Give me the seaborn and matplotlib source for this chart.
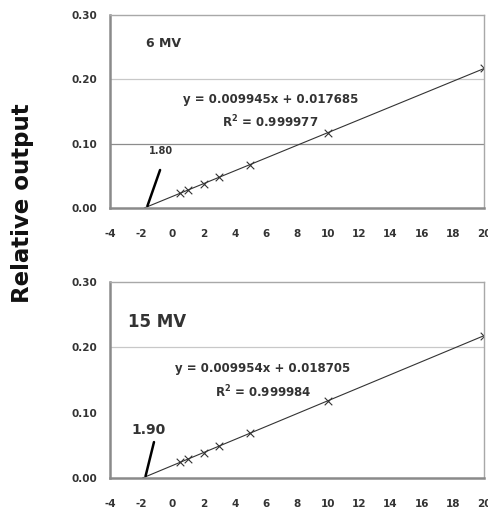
import numpy as np
import pandas as pd
import seaborn as sns
import matplotlib.pyplot as plt

# field sizes / readings
x_vals = [0.5, 1, 2, 3, 5, 10, 20]
y_6mv = [0.023, 0.028, 0.038, 0.048, 0.067, 0.117, 0.217]
y_15mv = [0.024, 0.029, 0.039, 0.049, 0.069, 0.118, 0.218]

panels = ['6 MV', '15 MV']
equations = ['y = 0.009945x + 0.017685', 'y = 0.009954x + 0.018705']
r2_text = ['R$^2$ = 0.999977', 'R$^2$ = 0.999984']
intercept_labels = ['1.80', '1.90']
x_ticks = list(range(-4, 21, 2))
y_ticks = [0.00, 0.10, 0.20, 0.30]

sns.set_style('white')
plt.rcParams['font.family'] = ['DejaVu Sans']
plt.rcParams['font.weight'] = 'bold'
plt.rcParams['axes.unicode_minus'] = False
plt.rcParams['mathtext.default'] = 'bf'

fig = plt.figure(figsize=(4.89, 5.08), dpi=100)
ax_top = fig.add_axes([0.225, 0.5906, 0.765, 0.380])
ax_bot = fig.add_axes([0.225, 0.059, 0.765, 0.386])

setups = [
    (ax_top, y_6mv, 9, (-0.6, 0.256), (6.3, 0.169), (6.3, 0.134), (-0.7, 0.088), (-0.79, 0.059), 7),
    (ax_bot, y_15mv, 12, (-1.0, 0.239), (5.8, 0.168), (5.8, 0.132), (-1.5, 0.074), (-1.18, 0.055), 10),
]

for i, (ax, yv, tsize, tpos, epos, rpos, lpos, lend, lsize) in enumerate(setups):
    df = pd.DataFrame({'x': x_vals, 'y': yv})
    slope, icpt = np.polyfit(df['x'], df['y'], 1)
    x0 = -icpt / slope
    fit = pd.DataFrame({'x': [x0, max(x_vals)]})
    fit['y'] = slope * fit['x'] + icpt

    # grid lines
    if i == 0:
        ax.axhline(y_ticks[1], color='#8c8c8c', lw=0.9, zorder=0)
    ax.axhline(y_ticks[2], color='#c8c8c8', lw=0.9, zorder=0)

    sns.lineplot(data=fit, x='x', y='y', ax=ax, color='#333333', lw=0.8)
    sns.scatterplot(data=df, x='x', y='y', ax=ax, marker='x', color='#333333',
                    s=30, linewidth=0.8)

    # short pointer to the x intercept
    ax.plot([x0 + 0.2, lend[0]], [0.003, lend[1]], color='black', lw=1.8)
    ax.text(lpos[0], lpos[1], intercept_labels[i], fontsize=lsize, ha='center',
            va='center', color='#333333')

    ax.text(tpos[0], tpos[1], panels[i], fontsize=tsize, ha='center', va='center',
            color='#333333')
    ax.text(epos[0], epos[1], equations[i], fontsize=8.5, ha='center', va='center',
            color='#333333')
    ax.text(rpos[0], rpos[1], r2_text[i], fontsize=8.5, ha='center', va='center',
            color='#333333')

    ax.set_xlim(-4, 20)
    ax.set_ylim(0, 0.30)
    ax.set_xticks(x_ticks)
    ax.set_yticks(y_ticks)
    ax.set_yticklabels([f'{v:.2f}' for v in y_ticks])
    ax.tick_params(labelsize=7.5, colors='#333333', width=0.8, direction='out')
    ax.tick_params(axis='y', length=6, pad=3)
    ax.tick_params(axis='x', length=4, pad=11)
    ax.set_xlabel('')
    ax.set_ylabel('')
    for side in ['left', 'bottom']:
        ax.spines[side].set_color('#8a8a8a')
        ax.spines[side].set_linewidth(1.8)
    for side in ['top', 'right']:
        ax.spines[side].set_color('#a8a8a8')
        ax.spines[side].set_linewidth(1.0)

fig.text(0.047, 0.60, 'Relative output', rotation=90, fontsize=16.5,
         fontweight='bold', ha='center', va='center', color='#111111')

plt.savefig('out.png', dpi=100)
